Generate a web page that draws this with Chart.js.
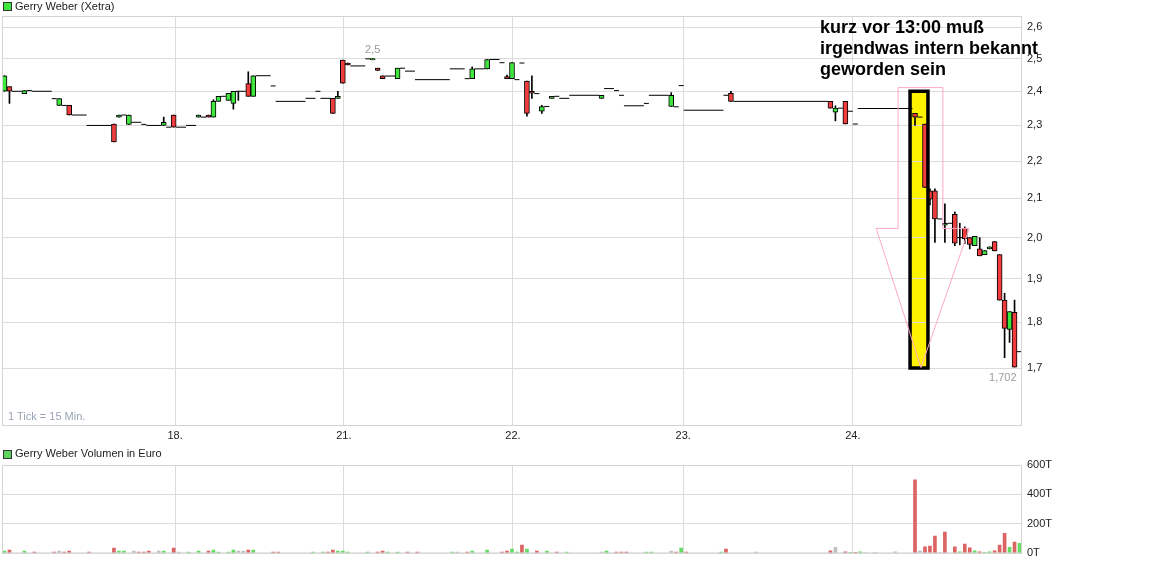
<!DOCTYPE html>
<html>
<head>
<meta charset="utf-8">
<script src="https://cdn.jsdelivr.net/npm/chart.js@4"></script>
<style>
  body { margin: 0; background: #fff; width: 1166px; height: 565px; position: relative; overflow: hidden; font-family: Arial, "Liberation Sans", sans-serif; }
  canvas { position: absolute; left: 0; }
  .sq { position: absolute; width: 7px; height: 7px; border: 1px solid #333; z-index: 2; }
  .lt { position: absolute; font-size: 11px; line-height: 13px; color: #222; white-space: nowrap; z-index: 2; }
  #note { position: absolute; left: 820px; top: 17px; font: bold 18px Arial, "Liberation Sans", sans-serif; line-height: 21px; color: #000; white-space: nowrap; z-index: 2; }
  #tickinfo { position: absolute; left: 8px; top: 410px; font-size: 11px; line-height: 13px; color: #9aa4b4; z-index: 2; }
</style>
</head>
<body>
<canvas id="price" width="1166" height="445" style="top:0"></canvas>
<canvas id="vol" width="1166" height="120" style="top:445px"></canvas>

<div class="sq" style="left:3px;top:2px;background:#3ee63e"></div>
<div class="lt" style="left:15px;top:0">Gerry Weber (Xetra)</div>
<div class="sq" style="left:3px;top:450px;background:#5fd35f"></div>
<div class="lt" style="left:15px;top:447px">Gerry Weber Volumen in Euro</div>
<div id="tickinfo">1 Tick = 15 Min.</div>
<div id="note">kurz vor 13:00 muß<br>irgendwas intern bekannt<br>geworden sein</div>

<script>
// Kerzen, 1 Tick = 15 Min. (17. bis 24.)
const candleTick = [0, 1, 4, 11, 13, 22, 23, 25, 32, 34, 39, 41, 42, 43, 45, 46, 47, 49, 50, 66,
  67, 68, 69, 74, 75, 76, 79, 94, 97, 101, 102, 105, 106, 108, 110, 120, 134, 146, 166, 167,
  169, 183, 185, 186, 187, 189, 191, 192, 193, 194, 195, 196, 197, 198, 199, 200, 201, 202, 203];
const candleOpen = [2.400, 2.414, 2.393, 2.358, 2.358, 2.304, 2.324, 2.303, 2.300, 2.330,
  2.324, 2.330, 2.324, 2.370, 2.373, 2.364, 2.400, 2.423, 2.385, 2.379,
  2.379, 2.495, 2.486, 2.496, 2.470, 2.447, 2.438, 2.438, 2.468, 2.444,
  2.438, 2.431, 2.400, 2.341, 2.379, 2.379, 2.355, 2.394, 2.370, 2.338,
  2.370, 2.335, 2.304, 2.120, 2.120, 2.031, 2.059, 2.000, 2.023, 2.000,
  1.980, 1.972, 1.958, 1.972, 1.990, 1.958, 1.850, 1.784, 1.822];
const candleHigh = [2.447, 2.414, 2.402, 2.378, 2.358, 2.304, 2.330, 2.330, 2.324, 2.330,
  2.330, 2.330, 2.375, 2.385, 2.394, 2.400, 2.400, 2.459, 2.447, 2.379,
  2.400, 2.495, 2.486, 2.500, 2.470, 2.447, 2.470, 2.474, 2.497, 2.449,
  2.487, 2.431, 2.447, 2.358, 2.385, 2.388, 2.396, 2.400, 2.370, 2.357,
  2.370, 2.335, 2.304, 2.125, 2.125, 2.086, 2.065, 2.036, 2.027, 2.000,
  2.003, 2.000, 1.968, 1.977, 1.990, 1.958, 1.866, 1.824, 1.850];
const candleLow = [2.400, 2.364, 2.393, 2.358, 2.330, 2.253, 2.324, 2.303, 2.300, 2.295,
  2.324, 2.324, 2.324, 2.370, 2.373, 2.347, 2.373, 2.385, 2.385, 2.335,
  2.379, 2.424, 2.480, 2.496, 2.463, 2.438, 2.438, 2.438, 2.468, 2.438,
  2.438, 2.327, 2.379, 2.335, 2.379, 2.379, 2.355, 2.370, 2.350, 2.313,
  2.304, 2.300, 2.129, 2.083, 1.988, 1.988, 1.980, 1.982, 1.985, 1.972,
  1.980, 1.955, 1.958, 1.972, 1.967, 1.850, 1.722, 1.755, 1.702];
const candleClose = [2.447, 2.400, 2.402, 2.378, 2.330, 2.253, 2.330, 2.330, 2.309, 2.295,
  2.330, 2.324, 2.370, 2.385, 2.394, 2.400, 2.400, 2.385, 2.447, 2.335,
  2.385, 2.424, 2.480, 2.500, 2.463, 2.438, 2.470, 2.468, 2.497, 2.438,
  2.487, 2.335, 2.394, 2.355, 2.385, 2.388, 2.388, 2.370, 2.350, 2.350,
  2.304, 2.324, 2.129, 2.098, 2.047, 2.036, 1.986, 2.000, 1.997, 1.983,
  2.003, 1.955, 1.968, 1.977, 1.967, 1.850, 1.786, 1.824, 1.702];

// Ticks ohne Kursbewegung (waagerechte Striche): von, bis, Kurs
const flatFrom = [2, 5, 6, 10, 12, 14, 17, 24, 26, 28, 29, 33, 35, 37, 40, 44, 47, 51, 54, 55,
  61, 63, 64, 70, 73, 77, 80, 81, 83, 90, 93, 95, 98, 100, 103, 104, 107, 109, 111, 112,
  114, 121, 123, 124, 125, 129, 130, 135, 136, 137, 145, 147, 168, 170, 171, 172, 184, 188, 190, 192, 204];
const flatTo = [3, 5, 9, 10, 12, 16, 21, 24, 27, 28, 31, 33, 36, 38, 40, 44, 48, 53, 54, 60,
  62, 63, 65, 72, 73, 78, 80, 82, 89, 92, 93, 96, 99, 100, 103, 104, 107, 109, 111, 113,
  119, 122, 123, 124, 128, 129, 133, 135, 136, 144, 145, 165, 168, 170, 171, 182, 184, 188, 190, 192, 204];
const flatPrice = [2.400, 2.402, 2.400, 2.378, 2.358, 2.330, 2.300, 2.330, 2.309, 2.303, 2.300, 2.295, 2.295, 2.300, 2.324, 2.385, 2.400, 2.447, 2.416, 2.370,
  2.379, 2.400, 2.379, 2.477, 2.499, 2.446, 2.470, 2.461, 2.435, 2.468, 2.438, 2.468, 2.497, 2.487, 2.435, 2.486, 2.393, 2.355, 2.385, 2.379,
  2.388, 2.408, 2.402, 2.388, 2.357, 2.364, 2.388, 2.354, 2.417, 2.344, 2.388, 2.370, 2.350, 2.341, 2.304, 2.349, 2.324, 2.047, 2.036, 2.000, 1.735];

// Volumen in Tsd. Euro; r = fallend, g = steigend, n = unverändert
const volTick = [0, 1, 4, 6, 10, 11, 12, 13, 17, 22, 23, 24, 26, 27, 28, 29, 31, 32, 34, 35,
  37, 39, 41, 42, 43, 45, 46, 47, 48, 49, 50, 54, 55, 62, 64, 65, 66, 67, 68, 69,
  73, 75, 76, 77, 79, 81, 83, 90, 91, 93, 94, 97, 100, 101, 102, 103, 104, 105, 107, 109,
  111, 113, 120, 121, 123, 124, 125, 129, 130, 134, 135, 136, 137, 144, 145, 151, 166, 167, 169, 170,
  171, 172, 173, 175, 179, 183, 184, 185, 186, 187, 188, 189, 191, 192, 193, 194, 195, 196, 197, 198,
  199, 200, 201, 202, 203, 204];
const volValue = [15, 22, 15, 9, 9, 15, 9, 15, 9, 36, 15, 15, 15, 9, 9, 15, 15, 15, 36, 9,
  9, 15, 15, 22, 9, 9, 22, 15, 15, 22, 22, 9, 9, 9, 9, 9, 22, 15, 15, 9,
  9, 9, 15, 9, 9, 9, 9, 9, 9, 9, 15, 22, 9, 15, 29, 9, 56, 29, 15, 15,
  9, 9, 9, 15, 9, 9, 9, 9, 9, 15, 9, 36, 9, 9, 29, 9, 18, 42, 11, 7,
  7, 11, 6, 6, 11, 500, 18, 45, 49, 117, 6, 144, 45, 11, 63, 38, 18, 11, 7, 11,
  18, 56, 137, 42, 76, 69];
const volColor = ['g', 'r', 'g', 'r', 'r', 'n', 'r', 'r', 'r', 'r', 'g', 'g', 'n', 'r', 'r', 'r', 'n', 'g', 'r', 'n',
  'g', 'g', 'r', 'g', 'g', 'g', 'g', 'n', 'n', 'r', 'g', 'r', 'r', 'g', 'g', 'r', 'r', 'g', 'g', 'g',
  'g', 'r', 'r', 'g', 'g', 'r', 'r', 'g', 'n', 'r', 'g', 'g', 'r', 'r', 'g', 'g', 'r', 'g', 'r', 'g',
  'r', 'g', 'n', 'g', 'r', 'r', 'r', 'g', 'g', 'n', 'r', 'g', 'r', 'g', 'r', 'n', 'r', 'n', 'r', 'g',
  'r', 'g', 'n', 'n', 'n', 'r', 'n', 'r', 'r', 'r', 'n', 'r', 'r', 'g', 'r', 'r', 'g', 'r', 'g', 'g',
  'r', 'r', 'r', 'g', 'r', 'g'];

// Achsen
const priceTicks = [1.7, 1.8, 1.9, 2.0, 2.1, 2.2, 2.3, 2.4, 2.5, 2.6];
const volTicks = [0, 200, 400, 600];
const dayPos = [34.3, 68.2, 102.2, 136.4, 170.5];
const dayLabels = ['18.', '21.', '22.', '23.', '24.'];

// Markierung (gelber Kasten und Pfeil) in Tick/Kurs
const boxFrom = 182, boxTo = 185.6, boxTop = 2.4, boxBottom = 1.7;
const arrow = [[179.6, 2.411], [188.6, 2.411], [188.6, 2.023], [193.9, 2.023], [184.2, 1.701], [175.2, 2.023], [179.6, 2.023]];

const GREEN = '#3ee63e', RED = '#f03c3c';
const VOLC = { r: '#dc6464', g: '#64dc64', n: '#c0c0c0' };
const FONT = { family: 'Arial, "Liberation Sans", sans-serif', size: 11 };
const comma = v => String(+v.toFixed(3)).replace('.', ',');

const wickData = [], bodyData = [], bodyColors = [];
candleTick.forEach((t, k) => {
  const o = candleOpen[k], c = candleClose[k];
  if (candleHigh[k] > candleLow[k]) wickData.push({ x: t, y: [candleLow[k], candleHigh[k]] });
  if (o !== c) {
    bodyData.push({ x: t, y: [o, c] });
    bodyColors.push(c > o ? GREEN : RED);
  }
});
const flatData = [];
flatFrom.forEach((f, k) => {
  flatData.push({ x: f - 0.5, y: flatPrice[k] }, { x: flatTo[k] + 0.5, y: flatPrice[k] }, { x: flatTo[k] + 0.5, y: null });
});

const frame = {
  id: 'frame',
  afterDraw(chart) {
    const { ctx, chartArea: a } = chart;
    ctx.save();
    ctx.strokeStyle = '#d4d4d4';
    ctx.lineWidth = 1;
    ctx.strokeRect(a.left + 0.5, a.top + 0.5, a.right - a.left - 1, a.bottom - a.top - 1);
    ctx.restore();
  }
};

const marks = {
  id: 'marks',
  beforeDraw(chart) {
    const { ctx, scales: { x, y } } = chart;
    ctx.save();
    ctx.fillStyle = '#fff200';
    const l = x.getPixelForValue(boxFrom), r = x.getPixelForValue(boxTo);
    const t = y.getPixelForValue(boxTop), b = y.getPixelForValue(boxBottom);
    ctx.fillRect(l, t, r - l, b - t);
    ctx.restore();
  },
  afterDatasetsDraw(chart) {
    const { ctx, scales: { x, y } } = chart;
    ctx.save();
    // Kasten
    const l = x.getPixelForValue(boxFrom), r = x.getPixelForValue(boxTo);
    const t = y.getPixelForValue(boxTop), b = y.getPixelForValue(boxBottom);
    ctx.strokeStyle = '#000';
    ctx.lineWidth = 3.5;
    ctx.strokeRect(l, t, r - l, b - t);
    // Pfeil
    ctx.strokeStyle = '#ffa8c8';
    ctx.lineWidth = 1;
    ctx.beginPath();
    arrow.forEach(([tx, p], i) => {
      const X = x.getPixelForValue(tx), Y = y.getPixelForValue(p);
      i ? ctx.lineTo(X, Y) : ctx.moveTo(X, Y);
    });
    ctx.closePath();
    ctx.stroke();
    // Hoch / Tief
    const hi = candleHigh.indexOf(Math.max(...candleHigh));
    const lo = candleLow.indexOf(Math.min(...candleLow));
    ctx.font = '11px Arial, "Liberation Sans", sans-serif';
    ctx.fillStyle = '#9c9c9c';
    ctx.textAlign = 'center';
    ctx.textBaseline = 'bottom';
    ctx.fillText(comma(candleHigh[hi]), x.getPixelForValue(candleTick[hi]), y.getPixelForValue(candleHigh[hi]) - 3);
    ctx.textAlign = 'right';
    ctx.textBaseline = 'top';
    ctx.fillText(comma(candleLow[lo]), x.getPixelForValue(candleTick[lo]) + 2, y.getPixelForValue(candleLow[lo]) + 5);
    ctx.restore();
  }
};

const xAxis = (h, showLabels) => ({
  type: 'linear', min: -0.5, max: 204.5, offset: false,
  grid: { color: '#dcdcdc', offset: false, drawTicks: false },
  border: { display: false },
  afterBuildTicks: s => { s.ticks = dayPos.map(v => ({ value: v })); },
  afterFit: s => { s.height = h; },
  ticks: { display: showLabels, autoSkip: false, maxRotation: 0, padding: 3, color: '#222', font: FONT,
    callback: (v, i) => dayLabels[i] }
});

new Chart(document.getElementById('price'), {
  type: 'bar',
  data: {
    datasets: [
      { type: 'line', data: flatData, borderColor: '#000', borderWidth: 1, pointRadius: 0, spanGaps: false, tension: 0, order: 3 },
      { data: wickData, backgroundColor: '#000', borderWidth: 0, barThickness: 1, grouped: false, order: 2 },
      { data: bodyData, backgroundColor: bodyColors, borderColor: '#000', borderWidth: 1, borderSkipped: false,
        barThickness: 5, grouped: false, order: 1 }
    ]
  },
  options: {
    responsive: false, animation: false, events: [],
    layout: { padding: { left: 2, top: 16, right: 0, bottom: 0 } },
    plugins: { legend: { display: false }, tooltip: { enabled: false } },
    scales: {
      x: xAxis(19, true),
      y: {
        type: 'logarithmic', position: 'right', min: 1.5815, max: 2.636,
        grid: { color: '#dcdcdc', drawTicks: false },
        border: { display: false },
        afterBuildTicks: s => { s.ticks = priceTicks.map(v => ({ value: v })); },
        afterFit: s => { s.width = 144; },
        ticks: { autoSkip: false, padding: 5, color: '#222', font: FONT,
          callback: v => v.toFixed(1).replace('.', ',') }
      }
    }
  },
  plugins: [marks, frame]
});

new Chart(document.getElementById('vol'), {
  type: 'bar',
  data: {
    datasets: [{
      data: volTick.map((t, k) => ({ x: t, y: volValue[k] })),
      backgroundColor: volColor.map(c => VOLC[c]),
      borderWidth: 0, barThickness: 3, grouped: false
    }]
  },
  options: {
    responsive: false, animation: false, events: [],
    layout: { padding: { left: 2, top: 20, right: 0, bottom: 0 } },
    plugins: { legend: { display: false }, tooltip: { enabled: false } },
    scales: {
      x: xAxis(11, false),
      y: {
        position: 'right', min: 0, max: 600,
        grid: { color: '#dcdcdc', drawTicks: false },
        border: { display: false },
        afterBuildTicks: s => { s.ticks = volTicks.map(v => ({ value: v })); },
        afterFit: s => { s.width = 144; },
        ticks: { autoSkip: false, padding: 5, color: '#222', font: FONT, callback: v => v + 'T' }
      }
    }
  },
  plugins: [frame]
});
</script>
</body>
</html>
